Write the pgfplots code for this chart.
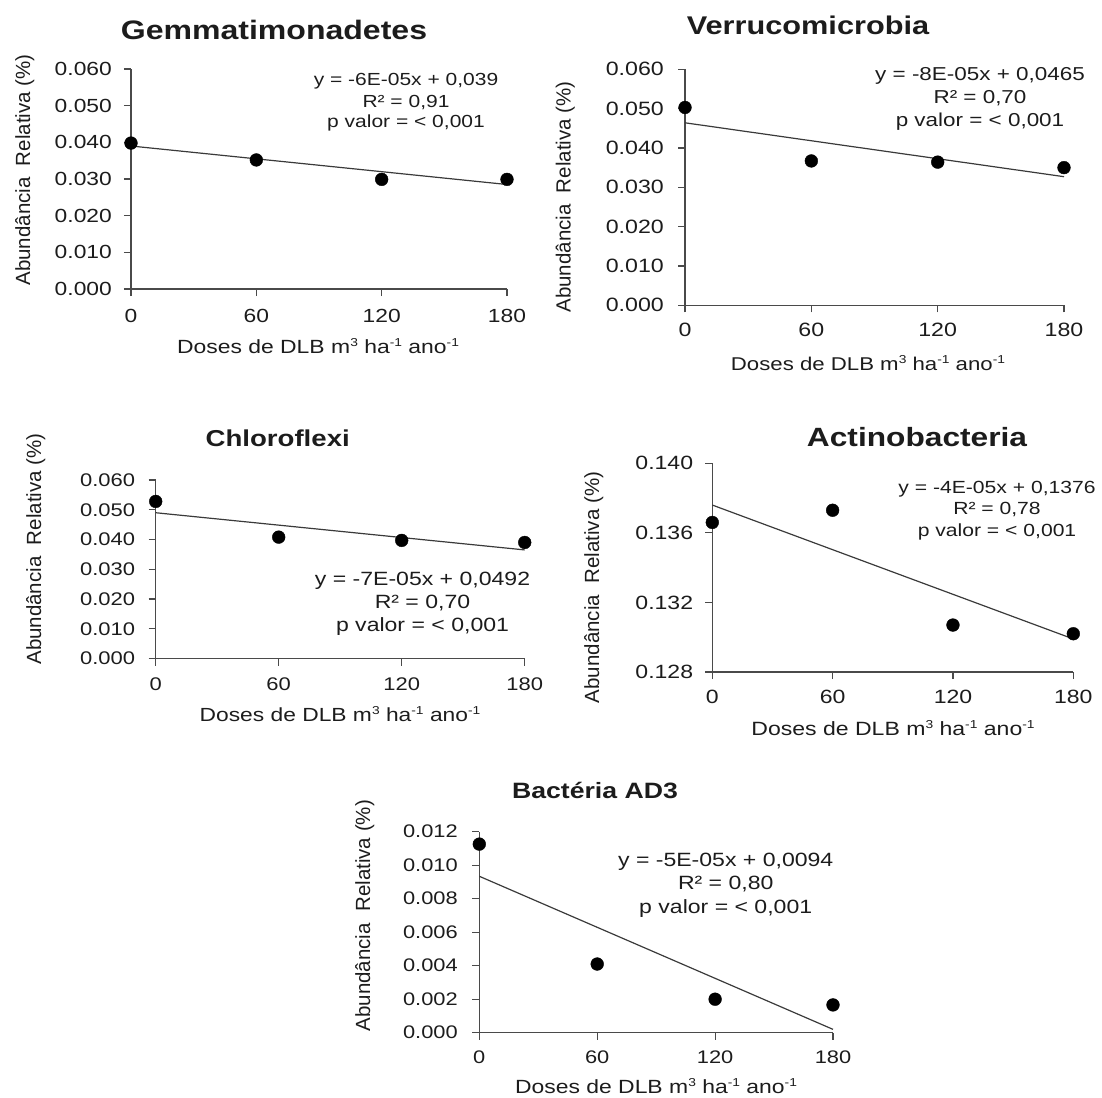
\documentclass[border=0pt]{standalone}
\usepackage{pgfplots}
\pgfplotsset{compat=1.18}
\usepackage{fontspec}
\setmainfont{Liberation Sans}[FakeStretch=1.2]
\newfontfamily\ylabfont{Liberation Sans}
\definecolor{axcol}{HTML}{4A4A4A}
\definecolor{txtcol}{HTML}{1C1C1C}
\definecolor{trendcol}{HTML}{3A3A3A}
\newcommand{\fs}[1]{\fontsize{#1}{#1}\selectfont}
\newcommand{\sups}[1]{\raisebox{0.36em}{\fontsize{11.5}{11.5}\selectfont #1}}
\pgfplotsset{
  panel/.style={
    scale only axis, anchor=south west, clip=false,
    axis lines=left, axis line style={-, draw=axcol, line width=1.1pt},
    tick align=outside, major tick length=7pt,
    tick style={draw=axcol, line width=1.1pt},
    xmin=0, xmax=180, xtick={0,60,120,180}, xticklabels={0,60,120,180},
    minor tick num=0, scaled y ticks=false, scaled x ticks=false,
    ticklabel style={text=txtcol},
    xticklabel style={anchor=base, inner sep=0pt},
    yticklabel style={anchor=east, inner sep=0pt},
  },
  pts/.style={only marks, mark=*, mark size=6.4pt, mark options={fill=black, draw=black}},
  trend/.style={no marks, draw=trendcol, line width=1.2pt},
}
\newcommand{\doses}{Doses de DLB m\sups{3} ha\sups{-1} ano\sups{-1}}
\newcommand{\ylab}{Abund\^ancia\ \ Relativa (\%)}
\begin{document}
\begin{tikzpicture}[text=txtcol]
\useasboundingbox (0pt,0pt) rectangle (1102pt,-1097pt);

% ---------------- Gemmatimonadetes
\begin{axis}[panel, at={(131pt,-289pt)}, width=376pt, height=220pt,
  ymin=0, ymax=0.06, ytick={0,0.01,0.02,0.03,0.04,0.05,0.06},
  yticklabels={0.000,0.010,0.020,0.030,0.040,0.050,0.060},
  ticklabel style={font=\fs{19}},
  xticklabel style={yshift=-26pt}, yticklabel style={xshift=-12pt}]
\addplot[trend] coordinates {(0,0.0390) (180,0.0285)};
\addplot[pts] coordinates {(0,0.0398) (60,0.0352) (120,0.0299) (180,0.0299)};
\end{axis}
\node[anchor=base, inner sep=0pt, font=\bfseries\fs{26.7}] at (274pt,-40pt) {Gemmatimonadetes};
\node[anchor=base, inner sep=0pt, font=\fs{17.5}] at (406pt,-86pt) {y = -6E-05x + 0,039};
\node[anchor=base, inner sep=0pt, font=\fs{17.5}] at (406pt,-107pt) {R² = 0,91};
\node[anchor=base, inner sep=0pt, font=\fs{17.5}] at (406pt,-128pt) {p valor = < 0,001};
\node[anchor=base, inner sep=0pt, font=\fs{19.1}] at (318pt,-353pt) {\doses};
\node[anchor=base, inner sep=0pt, rotate=90, font=\ylabfont\fs{20.5}] at (30pt,-170pt) {\ylab};

% ---------------- Verrucomicrobia
\begin{axis}[panel, at={(685pt,-305.3pt)}, width=379pt, height=236pt,
  ymin=0, ymax=0.06, ytick={0,0.01,0.02,0.03,0.04,0.05,0.06},
  yticklabels={0.000,0.010,0.020,0.030,0.040,0.050,0.060},
  ticklabel style={font=\fs{19.3}},
  xticklabel style={yshift=-24.4pt}, yticklabel style={xshift=-14pt}]
\addplot[trend] coordinates {(0,0.0464) (180,0.0327)};
\addplot[pts] coordinates {(0,0.0503) (60,0.0367) (120,0.0364) (180,0.0350)};
\end{axis}
\node[anchor=base, inner sep=0pt, font=\bfseries\fs{25.6}] at (808pt,-35pt) {Verrucomicrobia};
\node[anchor=base, inner sep=0pt, font=\fs{18.7}] at (980pt,-81pt) {y = -8E-05x + 0,0465};
\node[anchor=base, inner sep=0pt, font=\fs{18.7}] at (980pt,-103.5pt) {R² = 0,70};
\node[anchor=base, inner sep=0pt, font=\fs{18.7}] at (980pt,-126pt) {p valor = < 0,001};
\node[anchor=base, inner sep=0pt, font=\fs{18.5}] at (868pt,-370pt) {\doses};
\node[anchor=base, inner sep=0pt, rotate=90, font=\ylabfont\fs{20.5}] at (570.5pt,-197pt) {\ylab};

% ---------------- Chloroflexi
\begin{axis}[panel, at={(155.7pt,-658.5pt)}, width=369pt, height=178.5pt,
  ymin=0, ymax=0.06, ytick={0,0.01,0.02,0.03,0.04,0.05,0.06},
  yticklabels={0.000,0.010,0.020,0.030,0.040,0.050,0.060},
  ticklabel style={font=\fs{18.3}},
  xticklabel style={yshift=-24.5pt}, yticklabel style={xshift=-13.4pt}]
\addplot[trend] coordinates {(0,0.0490) (180,0.0365)};
\addplot[pts] coordinates {(0,0.0528) (60,0.0408) (120,0.0397) (180,0.0390)};
\end{axis}
\node[anchor=base, inner sep=0pt, font=\bfseries\fs{23}] at (277.7pt,-446.7pt) {Chloroflexi};
\node[anchor=base, inner sep=0pt, font=\fs{19.2}] at (422.5pt,-585.7pt) {y = -7E-05x + 0,0492};
\node[anchor=base, inner sep=0pt, font=\fs{19.2}] at (422.5pt,-608.3pt) {R² = 0,70};
\node[anchor=base, inner sep=0pt, font=\fs{19.2}] at (422.5pt,-631.7pt) {p valor = < 0,001};
\node[anchor=base, inner sep=0pt, font=\fs{19}] at (340pt,-721.7pt) {\doses};
\node[anchor=base, inner sep=0pt, rotate=90, font=\ylabfont\fs{20.5}] at (41pt,-549pt) {\ylab};

% ---------------- Actinobacteria
\begin{axis}[panel, at={(712.3pt,-672pt)}, width=361pt, height=208.7pt,
  ymin=0.128, ymax=0.140, ytick={0.128,0.132,0.136,0.140},
  yticklabels={0.128,0.132,0.136,0.140},
  ticklabel style={font=\fs{19.2}},
  xticklabel style={yshift=-24.3pt}, yticklabel style={xshift=-12pt}]
\addplot[trend] coordinates {(0,0.1376) (180,0.1299)};
\addplot[pts] coordinates {(0,0.1366) (60,0.1373) (120,0.1307) (180,0.1302)};
\end{axis}
\node[anchor=base, inner sep=0pt, font=\bfseries\fs{26.4}] at (917pt,-446.7pt) {Actinobacteria};
\node[anchor=base, inner sep=0pt, font=\fs{17.6}] at (997pt,-493.3pt) {y = -4E-05x + 0,1376};
\node[anchor=base, inner sep=0pt, font=\fs{17.6}] at (997pt,-514.5pt) {R² = 0,78};
\node[anchor=base, inner sep=0pt, font=\fs{17.6}] at (997pt,-536.7pt) {p valor = < 0,001};
\node[anchor=base, inner sep=0pt, font=\fs{19.2}] at (893pt,-735pt) {\doses};
\node[anchor=base, inner sep=0pt, rotate=90, font=\ylabfont\fs{20.5}] at (599pt,-587.5pt) {\ylab};

% ---------------- Bacteria AD3
\begin{axis}[panel, at={(479.3pt,-1032.7pt)}, width=353.7pt, height=201pt,
  ymin=0, ymax=0.012, ytick={0,0.002,0.004,0.006,0.008,0.010,0.012},
  yticklabels={0.000,0.002,0.004,0.006,0.008,0.010,0.012},
  ticklabel style={font=\fs{18.2}},
  xticklabel style={yshift=-23.6pt}, yticklabel style={xshift=-14.4pt}]
\addplot[trend] coordinates {(0,0.00934) (180,0.0002)};
\addplot[pts] coordinates {(0,0.01126) (60,0.0041) (120,0.0020) (180,0.00166)};
\end{axis}
\node[anchor=base, inner sep=0pt, font=\bfseries\fs{22.2}] at (595pt,-798.3pt) {Bactéria AD3};
\node[anchor=base, inner sep=0pt, font=\fs{19.2}] at (725.7pt,-866.7pt) {y = -5E-05x + 0,0094};
\node[anchor=base, inner sep=0pt, font=\fs{19.2}] at (725.7pt,-889.3pt) {R² = 0,80};
\node[anchor=base, inner sep=0pt, font=\fs{19.2}] at (725.7pt,-913.3pt) {p valor = < 0,001};
\node[anchor=base, inner sep=0pt, font=\fs{19.1}] at (656pt,-1093.3pt) {\doses};
\node[anchor=base, inner sep=0pt, rotate=90, font=\ylabfont\fs{20.5}] at (370pt,-915.7pt) {\ylab};
\end{tikzpicture}
\end{document}
